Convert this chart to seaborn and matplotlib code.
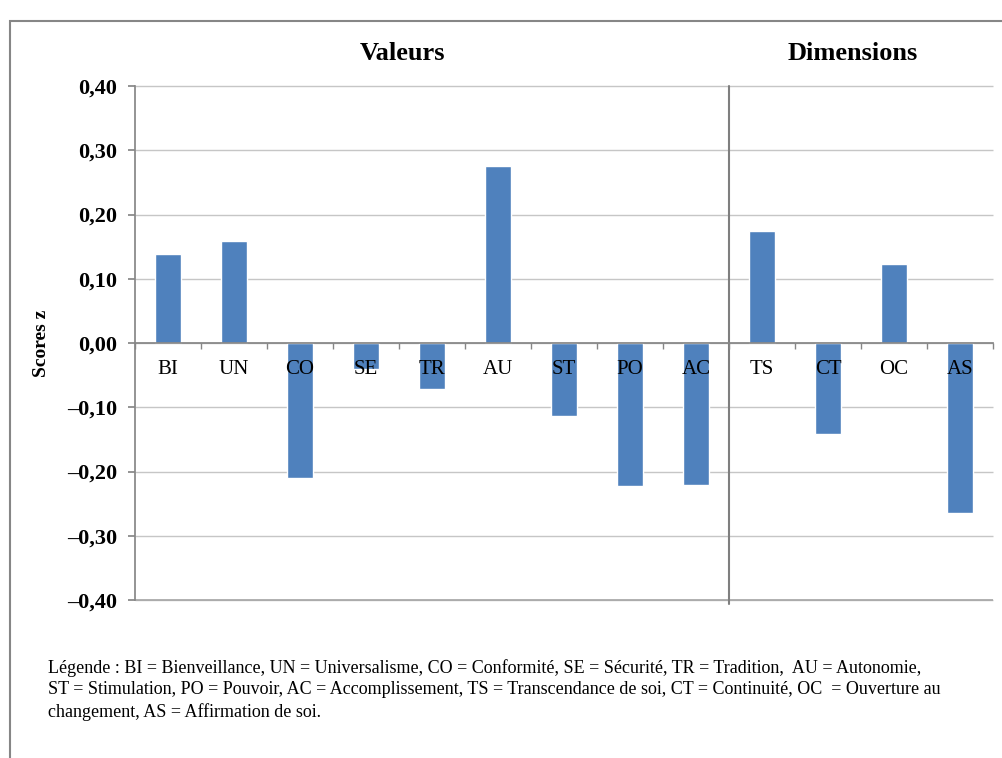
import matplotlib.pyplot as plt
from matplotlib.patches import Rectangle
import seaborn as sns
import pandas as pd
import numpy as np

# données
codes = ["BI", "UN", "CO", "SE", "TR", "AU", "ST", "PO", "AC", "TS", "CT", "OC", "AS"]
scores = [0.139, 0.158, -0.210, -0.040, -0.071, 0.276, -0.113, -0.223, -0.221, 0.174, -0.142, 0.123, -0.265]
groups = ["Valeurs"] * 9 + ["Dimensions"] * 4
yticks = [-0.40, -0.30, -0.20, -0.10, 0.00, 0.10, 0.20, 0.30, 0.40]
legend_text = ("Légende : BI = Bienveillance, UN = Universalisme, CO = Conformité, SE = Sécurité, TR = Tradition,  AU = Autonomie,\n"
               "ST = Stimulation, PO = Pouvoir, AC = Accomplissement, TS = Transcendance de soi, CT = Continuité, OC  = Ouverture au\n"
               "changement, AS = Affirmation de soi.")

BLUE = "#4f81bd"
GRID = "#c6c6c6"
AXIS = "#868686"

sns.set_theme(style="white")
plt.rcParams["font.family"] = ["Liberation Serif", "DejaVu Serif"]
plt.rcParams.update({"text.color": "black", "axes.labelcolor": "black",
                     "xtick.color": "black", "ytick.color": "black"})

W, H = 1003, 758
fig = plt.figure(figsize=(W / 100, H / 100), dpi=100)
ax = fig.add_axes([135 / W, 1 - 600 / H, 858 / W, 514 / H])

df = pd.DataFrame({"code": codes, "score": scores, "groupe": groups})
sns.barplot(data=df, x="code", y="score", color=BLUE, saturation=1, width=0.4, ax=ax)

ax.set_axisbelow(False)
ax.grid(False)
ax.set_ylim(-0.40, 0.40)
ax.set_xlim(-0.5, len(codes) - 0.5)
ax.hlines(yticks, -0.5, len(codes) - 0.5, colors=GRID, lw=1, zorder=0.5, clip_on=False)
ax.hlines(yticks[0], -0.5, len(codes) - 0.5, colors="#a6a6a6", lw=1.2, zorder=0.6, clip_on=False)

# axes
for s in ["top", "right"]:
    ax.spines[s].set_visible(False)
ax.spines["left"].set_color(AXIS)
ax.spines["bottom"].set_color(AXIS)
ax.spines["bottom"].set_position(("data", 0))

ax.set_yticks(yticks)
ax.set_yticklabels([f"{v:.2f}".replace(".", ",").replace("-", "\u2013") for v in yticks],
                   fontweight="bold", fontsize=16)
ax.tick_params(axis="y", direction="out", length=5, color=AXIS, labelcolor="black", pad=8, left=True)
ax.set_xticks(range(len(codes)))
ax.set_xticklabels(codes, fontsize=15)
ax.set_xticks(np.arange(-0.5, len(codes), 1), minor=True)
ax.tick_params(axis="x", which="major", length=0, pad=12, bottom=True, labelcolor="black")
ax.tick_params(axis="x", which="minor", direction="out", length=4, color=AXIS, bottom=True)
ax.set_xlabel("")
ax.set_ylabel("Scores z", fontweight="bold", fontsize=14)
ax.yaxis.set_label_coords((50 - 135) / 858, 0.5)

# séparation Valeurs / Dimensions
n_val = groups.count("Valeurs")
ax.axvline(n_val - 0.5, ymin=-0.008, ymax=1, color="#7f7f7f", lw=1.5, clip_on=False, zorder=2)

tr = ax.get_xaxis_transform()
ax.text(3.56, 1.064, "Valeurs", transform=tr, ha="center", va="center",
        fontsize=19, fontweight="bold")
ax.text(10.38, 1.064, "Dimensions", transform=tr, ha="center", va="center",
        fontsize=19, fontweight="bold")

fig.text(48 / W, 1 - 659 / H, legend_text, ha="left", va="top", fontsize=13, linespacing=1.33)

# cadre extérieur
fig.add_artist(Rectangle((10 / W, -0.1), 1.2, 1.1 - 21 / H, transform=fig.transFigure,
                         fill=False, edgecolor=AXIS, lw=1.5, clip_on=False))

fig.savefig("out.png", dpi=100)
